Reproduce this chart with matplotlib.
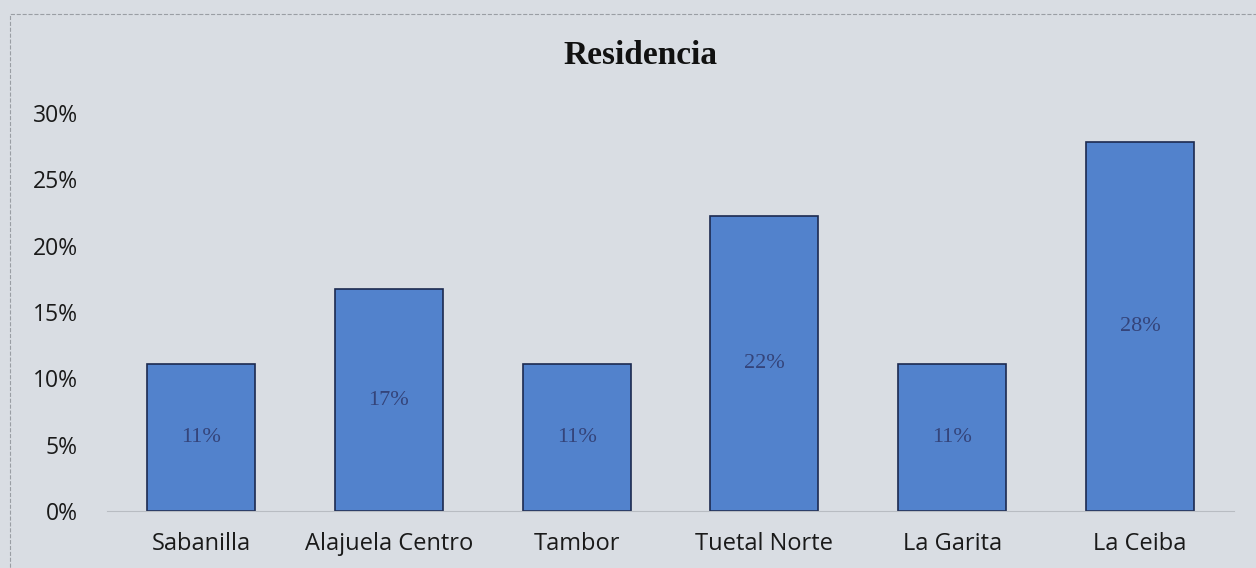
import matplotlib.pyplot as plt
from matplotlib.patches import Rectangle
from matplotlib.ticker import FuncFormatter

categories = ['Sabanilla', 'Alajuela Centro', 'Tambor', 'Tuetal Norte', 'La Garita', 'La Ceiba']
values = [0.111, 0.167, 0.111, 0.222, 0.111, 0.278]
labels = ['11%', '17%', '11%', '22%', '11%', '28%']
yticks = [0, 0.05, 0.10, 0.15, 0.20, 0.25, 0.30]

bg = '#d9dde3'
fig = plt.figure(figsize=(12.56, 5.68), dpi=100, facecolor=bg)
ax = fig.add_axes([0.0852, 0.1004, 0.8973, 0.7006])
ax.set_facecolor(bg)

x = range(len(categories))
bars = ax.bar(x, values, width=0.575, color='#5282cc', edgecolor='#1c2a50', linewidth=1.2)
for b, lab in zip(bars, labels):
    ax.text(b.get_x() + b.get_width() / 2, b.get_height() / 2, lab,
            ha='center', va='center', fontsize=16, family='Liberation Serif',
            color='#34447a')

ax.set_xlim(-0.5, len(categories) - 0.5)
ax.set_ylim(0, 0.30)
ax.set_yticks(yticks)
ax.yaxis.set_major_formatter(FuncFormatter(lambda v, p: f'{v*100:.0f}%'))
ax.set_xticks(list(x))
ax.set_xticklabels(categories)
ax.tick_params(axis='y', length=0, pad=21, labelsize=16.5, labelcolor='#1a1a1a')
ax.tick_params(axis='x', length=0, pad=15, labelsize=17, labelcolor='#1a1a1a')
for t in ax.get_xticklabels() + ax.get_yticklabels():
    t.set_family('Open Sans')

for s in ['top', 'right', 'left']:
    ax.spines[s].set_visible(False)
ax.spines['bottom'].set_color('#b8bcc2')

fig.text(0.51, 0.903, 'Residencia', ha='center', va='center', fontsize=24,
         fontweight='bold', family='Liberation Serif', color='#111111')

fig.patches.append(Rectangle((0.008, -0.05), 1.2, 1.025, transform=fig.transFigure,
                             fill=False, edgecolor='#9a9ea4', linestyle='--', linewidth=0.8))

fig.savefig('out.png', dpi=100, facecolor=bg)
